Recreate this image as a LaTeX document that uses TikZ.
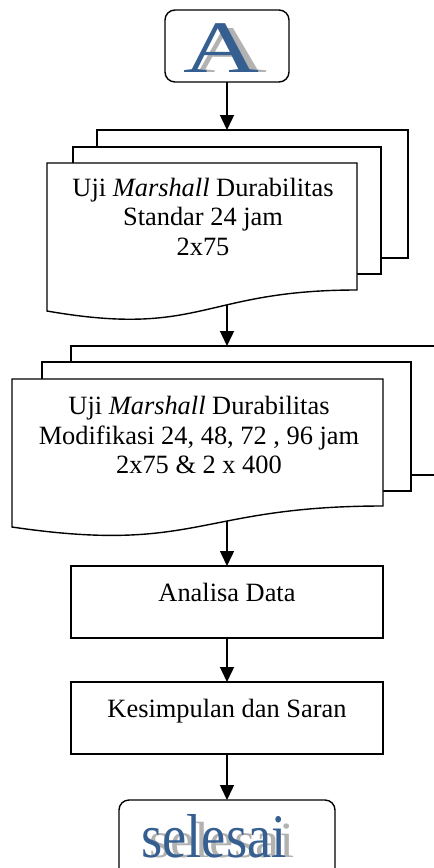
\documentclass[tikz,border=0pt]{standalone}
\usepackage{fontspec}
\setmainfont{Liberation Serif}
\usetikzlibrary{arrows.meta,calc}
\definecolor{artblue}{RGB}{54,95,145}
\definecolor{artshadow}{RGB}{178,178,178}
\tikzset{
  frame/.style={draw=black, line width=1.4pt},
  layer/.style={frame, fill=white, rectangle, inner sep=0pt, outer sep=0pt},
  procbox/.style={layer, minimum width=312pt, minimum height=72pt},
  termbox/.style={layer, rounded corners=10pt},
  flow/.style={line width=1.4pt, -{Triangle[width=14pt,length=15pt]}},
  doctext/.style={align=center, inner sep=0pt, font=\fontsize{26.4}{29.5}\selectfont},
  linetext/.style={anchor=base, inner sep=0pt, font=\fontsize{26.4}{29.5}\selectfont},
}
\begin{document}
\begin{tikzpicture}[x=1pt,y=-1pt]
\path[use as bounding box] (0,0) rectangle (434,868);
\clip (0,0) rectangle (434,868);

% start terminal with the word-art letter
\node[termbox, minimum width=124pt, minimum height=72pt] (start) at (227,46) {};
\node[anchor=base, inner sep=0pt, text=artshadow] (startshadow) at (229,72)
  {\scalebox{1.42}[0.9]{\fontsize{74}{74}\selectfont A}};
\node[anchor=base, inner sep=0pt, text=artblue] (starttext) at (221,72)
  {\scalebox{1.42}[1]{\fontsize{74}{74}\selectfont A}};

% first document stack
\node[layer, minimum width=311pt, minimum height=128pt] (d1back) at (252.5,194) {};
\node[layer, minimum width=308pt, minimum height=127pt] (d1mid) at (227,210.5) {};
\draw[frame, fill=white] (47,163) -- (357,163) -- (357,290)
  .. controls (202,290) and (202,338) .. (47,311) -- cycle;
\path (357,290) .. controls (202,290) and (202,338) .. (47,311)
  coordinate[pos=0.395] (d1wave);
\node[doctext] (d1text) at (203,216.5)
  {Uji \textit{Marshall} Durabilitas\\Standar 24 jam\\2x75};

% second document stack
\node[layer, minimum width=370pt, minimum height=129pt] (d2back) at (256,410.5) {};
\node[layer, minimum width=369pt, minimum height=129pt] (d2mid) at (226.5,426.5) {};
\draw[frame, fill=white] (12,379) -- (383,379) -- (383,506)
  .. controls (197.5,506) and (197.5,554.4) .. (12,527) -- cycle;
\path (383,506) .. controls (197.5,506) and (197.5,554.4) .. (12,527)
  coordinate[pos=0.395] (d2wave);
\node[doctext] (d2text) at (199,435)
  {Uji \textit{Marshall} Durabilitas\\Modifikasi 24, 48, 72 , 96 jam\\2x75 \& 2 x 400};

% process boxes
\node[procbox] (analisa) at (227,602) {};
\node[linetext] (analisatext) at (227,601.5) {Analisa Data};
\node[procbox] (kesimpulan) at (227,718) {};
\node[linetext] (kesimpulantext) at (227,717) {Kesimpulan dan Saran};

% end terminal with the word-art label
\node[termbox, minimum width=216pt, minimum height=100pt] (finish) at (227,850) {};
\node[anchor=base, inner sep=0pt, text=artshadow] (finishshadow) at (222,857)
  {\scalebox{0.88}[0.82]{\fontsize{62}{62}\selectfont selesai}};
\node[anchor=base, inner sep=0pt, text=artblue] (finishtext) at (214,857)
  {\scalebox{0.88}[1]{\fontsize{62}{62}\selectfont selesai}};

% connectors, all on the common vertical axis
\draw[flow] (start.south) -- (start.south |- d1back.north);
\draw[flow] (start.south |- d1wave) -- (start.south |- d2back.north);
\draw[flow] (start.south |- d2wave) -- (analisa.north);
\draw[flow] (analisa.south) -- (kesimpulan.north);
\draw[flow] (kesimpulan.south) -- (finish.north);
\end{tikzpicture}
\end{document}
